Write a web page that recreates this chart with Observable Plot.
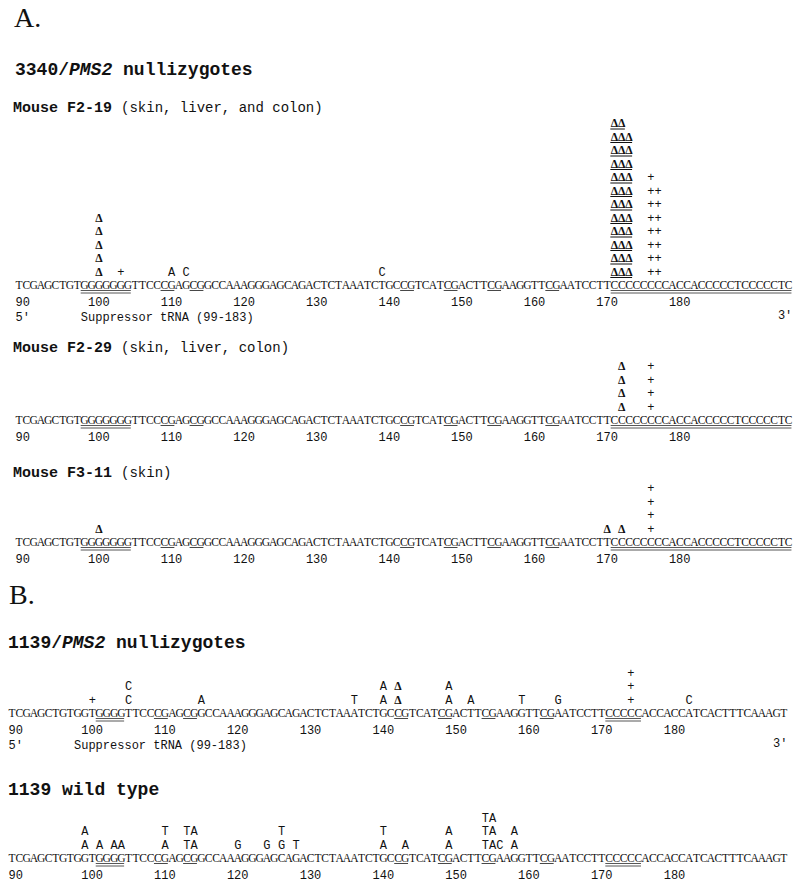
<!DOCTYPE html>
<html><head><meta charset="utf-8">
<script src="https://cdn.jsdelivr.net/npm/d3@7"></script>
<script src="https://cdn.jsdelivr.net/npm/@observablehq/plot@0.6"></script>
<style>
html,body{margin:0;padding:0;background:#fff;overflow:hidden;}
#page{position:relative;width:800px;height:884px;overflow:hidden;background:#fff;color:#111;}
.h{position:absolute;white-space:pre;color:#111;}
.panel{font-family:"Liberation Serif",serif;font-size:28px;line-height:28px;}
.group{font-family:"Liberation Mono",monospace;font-weight:bold;font-size:18px;line-height:18px;}
.mouse{font-family:"Liberation Mono",monospace;font-weight:bold;font-size:15px;line-height:15px;}
.mouse span{font-weight:normal;font-size:14px;}
svg.track{position:absolute;left:0;}
</style></head>
<body><div id="page">
<div class="h panel" style="left:14px;top:4px">A.</div>
<div class="h group" style="left:15px;top:61px">3340/<i>PMS2</i> nullizygotes</div>
<div class="h mouse" style="left:13px;top:101px">Mouse F2-19 <span>(skin, liver, and colon)</span></div>
<div class="h mouse" style="left:13px;top:341px">Mouse F2-29 <span>(skin, liver, colon)</span></div>
<div class="h mouse" style="left:13px;top:466px">Mouse F3-11 <span>(skin)</span></div>
<div class="h panel" style="left:9px;top:581px">B.</div>
<div class="h group" style="left:8px;top:634px">1139/<i>PMS2</i> nullizygotes</div>
<div class="h group" style="left:8px;top:781px">1139 wild type</div>
</div>
<script>
// ---------- data ----------
const startPos = 90;
const seq3340 = ["TCGAGCTGT","GGGGGGG","TTCC","CG","AG","CG","GCCAAAGGGAGCAGACTCTAAATCTGC","CG","TCAT","CG","ACTT","CG","AAGGTT","CG","AATCCTT","CCCCCCCCACCACCCCCTCCCCCTC"].join("");
const seq1139 = ["TCGAGCTGTGGT","GGGG","TTCC","CG","AG","CG","GCCAAAGGGAGCAGACTCTAAATCTGC","CG","TCAT","CG","ACTT","CG","AAGGTT","CG","AATCCTT","CCCCC","ACCACCATCACTTTCAAAGT"].join("");

const tickPos = [90,100,110,120,130,140,150,160,170,180];
const tickLabels = ["90","100","110","120","130","140","150","160","170","180"];

// CpG sites (single underline), runs (double underline), positions
const cpgRuns = [[110,111],[114,115],[143,144],[149,150],[155,156],[163,164]];
const runs3340 = [[99,105],[172,196]];
const runs1139 = [[102,105],[172,176]];

const suppressorLabel = "Suppressor tRNA (99-183)";
const suppressorStart = 99;

// mutation stacks: [position, symbols from bottom to top]
const muts_F2_19 = [[101,"ΔΔΔΔΔ"],[104,"+"],[111,"A"],[113,"C"],[140,"C"],
  [172,"ΔΔΔΔΔΔΔΔΔΔΔΔ"],[173,"ΔΔΔΔΔΔΔΔΔΔΔΔ"],[174,"ΔΔΔΔΔΔΔΔΔΔΔ"],
  [177,"++++++++"],[178,"+++++++"]];
const muts_F2_29 = [[173,"ΔΔΔΔ"],[177,"++++"]];
const muts_F3_11 = [[101,"Δ"],[171,"Δ"],[173,"Δ"],[177,"++++"]];
const muts_1139_null = [[101,"+"],[106,"CC"],[116,"A"],[137,"T"],[141,"AA"],[143,"ΔΔ"],
  [150,"AA"],[153,"A"],[160,"T"],[165,"G"],[175,"+++"],[183,"C"]];
const muts_1139_wt = [[100,"AA"],[102,"A"],[104,"A"],[105,"A"],[111,"AT"],[114,"TT"],[115,"AA"],
  [121,"G"],[125,"G"],[127,"GT"],[129,"T"],[141,"AT"],[144,"A"],[150,"AA"],
  [155,"TTT"],[156,"AAA"],[157,"C"],[159,"AA"]];

// ---------- drawing ----------
const page = document.getElementById("page");
const INK = "#111";

function track({seq, x0, cw, stacks, doubleRuns, suppressor, seqY}) {
  const seqLocal = 200, rowH = 13.5, H = 240;
  const n = seq.length;
  const chars = Array.from(seq, (c, i) => ({p: startPos + i, c}));
  const ann = stacks.flatMap(([p, s]) => Array.from(s, (c, k) => ({p, row: k + 1, c})));
  const letters = ann.filter(d => d.c !== "Δ");
  const deltas = ann.filter(d => d.c === "Δ");
  const has = new Set(deltas.map(d => d.p + ":" + d.row));
  const groups = [];
  for (const d of deltas) {
    if (has.has((d.p - 1) + ":" + d.row)) continue;
    let e = d.p;
    while (has.has((e + 1) + ":" + d.row)) e++;
    if (e > d.p) groups.push({p1: d.p, p2: e, row: d.row});
  }
  const ticks = tickPos.map((p, i) => ({p, label: tickLabels[i]}));
  const marks = [
    Plot.ruleY(cpgRuns, {x1: d => d[0] - 0.45, x2: d => d[1] + 0.45, y: () => 0, dy: 5, stroke: "#333", strokeWidth: 0.9}),
    Plot.ruleY(doubleRuns, {x1: d => d[0] - 0.45, x2: d => d[1] + 0.45, y: () => 0, dy: 5, stroke: "#444", strokeWidth: 0.9}),
    Plot.ruleY(doubleRuns, {x1: d => d[0] - 0.45, x2: d => d[1] + 0.45, y: () => 0, dy: 7.5, stroke: "#444", strokeWidth: 0.9}),
    Plot.text(chars, {x: "p", y: () => 0, text: "c", fontFamily: "Liberation Serif", fontSize: 11.5, fill: INK}),
    Plot.text(letters, {x: "p", y: "row", text: "c", fontFamily: "Liberation Mono", fontSize: 12, fill: INK}),
    Plot.text(deltas, {x: "p", y: "row", text: "c", fontFamily: "Liberation Serif", fontSize: 11.8, fontWeight: "bold", fill: INK}),
    Plot.ruleY(groups, {x1: d => d.p1 - 0.5, x2: d => d.p2 + 0.5, y: "row", dy: 5.5, stroke: INK, strokeWidth: 1}),
    Plot.text(ticks, {x: d => d.p - 0.5, y: () => -1.22, text: "label", textAnchor: "start", fontFamily: "Liberation Mono", fontSize: 12, fill: INK})
  ];
  if (suppressor) {
    const labs = [
      {p: startPos - 0.5, t: "5'", a: "start"},
      {p: suppressorStart - 0.5, t: suppressorLabel, a: "start"},
      {p: startPos + n - 0.5, t: "3'", a: "end"}
    ];
    marks.push(Plot.text(labs.filter(d => d.a === "start"), {x: "p", y: () => -2.35, text: "t", textAnchor: "start", fontFamily: "Liberation Mono", fontSize: 12, fill: INK}));
    marks.push(Plot.text(labs.filter(d => d.a === "end"), {x: "p", y: () => -2.2, text: "t", textAnchor: "end", fontFamily: "Liberation Mono", fontSize: 12, fill: INK}));
  }
  const svg = Plot.plot({
    width: 800, height: H, margin: 0,
    style: {background: "transparent", overflow: "visible"},
    x: {type: "linear", domain: [startPos - 0.5, startPos + n - 0.5], range: [x0, x0 + n * cw], axis: null},
    y: {type: "linear", domain: [0, 10], range: [seqLocal, seqLocal - 10 * rowH], axis: null},
    marks
  });
  svg.classList.add("track");
  svg.style.top = (seqY - seqLocal) + "px";
  svg.style.position = "absolute";
  svg.style.left = "0px";
  page.appendChild(svg);
}

track({seq: seq3340, x0: 15, cw: 7.26, stacks: muts_F2_19, doubleRuns: runs3340, suppressor: true, seqY: 285});
track({seq: seq3340, x0: 15, cw: 7.26, stacks: muts_F2_29, doubleRuns: runs3340, suppressor: false, seqY: 420});
track({seq: seq3340, x0: 15, cw: 7.26, stacks: muts_F3_11, doubleRuns: runs3340, suppressor: false, seqY: 542});
track({seq: seq1139, x0: 8, cw: 7.28, stacks: muts_1139_null, doubleRuns: runs1139, suppressor: true, seqY: 713});
track({seq: seq1139, x0: 8, cw: 7.28, stacks: muts_1139_wt, doubleRuns: runs1139, suppressor: false, seqY: 858});
</script>
</body></html>
